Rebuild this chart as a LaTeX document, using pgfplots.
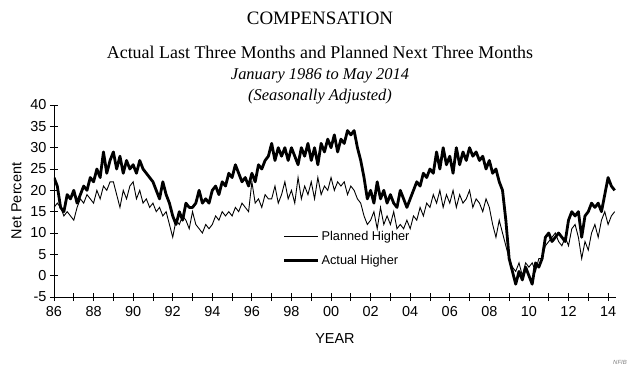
\documentclass[border=0pt]{standalone}
\usepackage{pgfplots}
\pgfplotsset{compat=1.18}
\usepackage{pgfplotstable}
\usepackage{fontspec}
\setmainfont{Liberation Sans}
\newfontfamily\serif{Liberation Serif}
\pgfplotstableread[row sep=\\]{
A P\\
23 16\\ 21 17\\ 16 16\\ 15 14\\ 19 15\\ 18 14\\
20 13\\ 17 16\\ 19 18\\ 21 17\\ 20 19\\ 23 18\\
22 17\\ 25 20\\ 23 18\\ 29 21\\ 24 20\\ 27 22\\
29 22\\ 25 19\\ 28 16\\ 24 20\\ 27 18\\ 25 21\\
26 22\\ 24 18\\ 27 20\\ 25 17\\ 24 18\\ 23 16\\
22 17\\ 20 15\\ 18 16\\ 22 14\\ 19 15\\ 17 12\\
14 9\\ 12 13\\ 15 12\\ 13 14\\ 17 13\\ 16 11\\
16 15\\ 17 12\\ 20 11\\ 17 10\\ 18 12\\ 17 11\\
20 12\\ 21 14\\ 19 13\\ 22 15\\ 21 14\\ 24 15\\
23 14\\ 26 16\\ 24 15\\ 22 17\\ 23 16\\ 21 15\\
24 22\\ 22 17\\ 26 18\\ 25 16\\ 27 19\\ 28 18\\
31 18\\ 27 21\\ 30 17\\ 28 19\\ 30 22\\ 27 18\\
30 20\\ 28 17\\ 26 23\\ 30 18\\ 28 21\\ 31 19\\
27 22\\ 30 18\\ 26 23\\ 31 19\\ 29 21\\ 32 20\\
30 23\\ 33 20\\ 29 22\\ 32 21\\ 31 22\\ 34 19\\
33 21\\ 34 20\\ 30 18\\ 27 17\\ 23 14\\ 18 12\\
20 13\\ 17 15\\ 22 11\\ 18 16\\ 20 12\\ 17 14\\
19 12\\ 17 15\\ 16 11\\ 20 12\\ 18 11\\ 16 13\\
18 11\\ 20 14\\ 22 13\\ 21 16\\ 24 14\\ 23 17\\
25 16\\ 24 19\\ 29 17\\ 25 20\\ 30 16\\ 26 19\\
28 17\\ 24 20\\ 30 16\\ 26 19\\ 29 17\\ 27 18\\
30 20\\ 28 16\\ 29 18\\ 27 17\\ 28 15\\ 25 18\\
27 16\\ 24 12\\ 25 9\\ 22 13\\ 20 10\\ 13 7\\
4 4\\ 1 2\\ -2 1\\ 1 3\\ -1 0\\ 2 3\\
0 2\\ -2 3\\ 3 1\\ 2 4\\ 4 4\\ 9 7\\
10 8\\ 8 9\\ 9 10\\ 10 8\\ 9 7\\ 8 9\\
13 7\\ 15 11\\ 14 12\\ 15 9\\ 9 4\\ 14 8\\
15 6\\ 17 10\\ 16 12\\ 17 9\\ 15 13\\ 19 15\\
23 12\\ 21 14\\ 20 15\\
}\data
\begin{document}
\begin{tikzpicture}
\path[use as bounding box] (-54bp,-81bp) rectangle (586bp,297bp);
\begin{axis}[
  at={(0,0)}, anchor=south west,
  scale only axis, width=562bp, height=192bp,
  xmin=86, xmax=114.4, ymin=-5, ymax=40,
  axis lines=left, axis line style={-, line width=0.8bp},
  tick align=center, major tick length=8bp,
  tick style={black, line width=0.8bp},
  xtick={86,87,...,114},
  xticklabels={86,,88,,90,,92,,94,,96,,98,,00,,02,,04,,06,,08,,10,,12,,14},
  ytick={-5,0,...,40},
  /pgf/number format/assume math mode=true,
  ticklabel style={font=\fontsize{14.5}{16}\selectfont},
  xticklabel style={yshift=-2bp},
  xlabel={YEAR}, ylabel={Net Percent},
  label style={font=\fontsize{14.5}{16}\selectfont},
  xlabel style={yshift=-10bp},
  ylabel style={yshift=2bp},
  legend style={draw=none, fill=none, at={(axis cs:97.4,11.5)}, anchor=north west,
    font=\fontsize{12.8}{14}\selectfont, row sep=10bp},
  legend cell align=left,
  legend image code/.code={\draw[#1] (0bp,0bp) -- (34bp,0bp);},
]
\addplot[black, line width=0.9bp] table[x expr={86+\coordindex/6}, y=P] {\data};
\addlegendentry{Planned Higher}
\addplot[black, line width=2.8bp, line join=round] table[x expr={86+\coordindex/6}, y=A] {\data};
\addlegendentry{Actual Higher}
\end{axis}
\node[font=\serif\fontsize{19}{21}\selectfont] at (266bp,279bp) {COMPENSATION};
\node[font=\serif\fontsize{18}{20}\selectfont] at (266bp,245bp) {Actual Last Three Months and Planned Next Three Months};
\node[font=\serif\itshape\fontsize{16.5}{18}\selectfont] at (266bp,221bp) {January 1986 to May 2014};
\node[font=\serif\itshape\fontsize{16.5}{18}\selectfont] at (266bp,200bp) {(Seasonally Adjusted)};
\node[font=\itshape\fontsize{6}{7}\selectfont, text=gray] at (566bp,-65bp) {NFIB};
\end{tikzpicture}
\end{document}
